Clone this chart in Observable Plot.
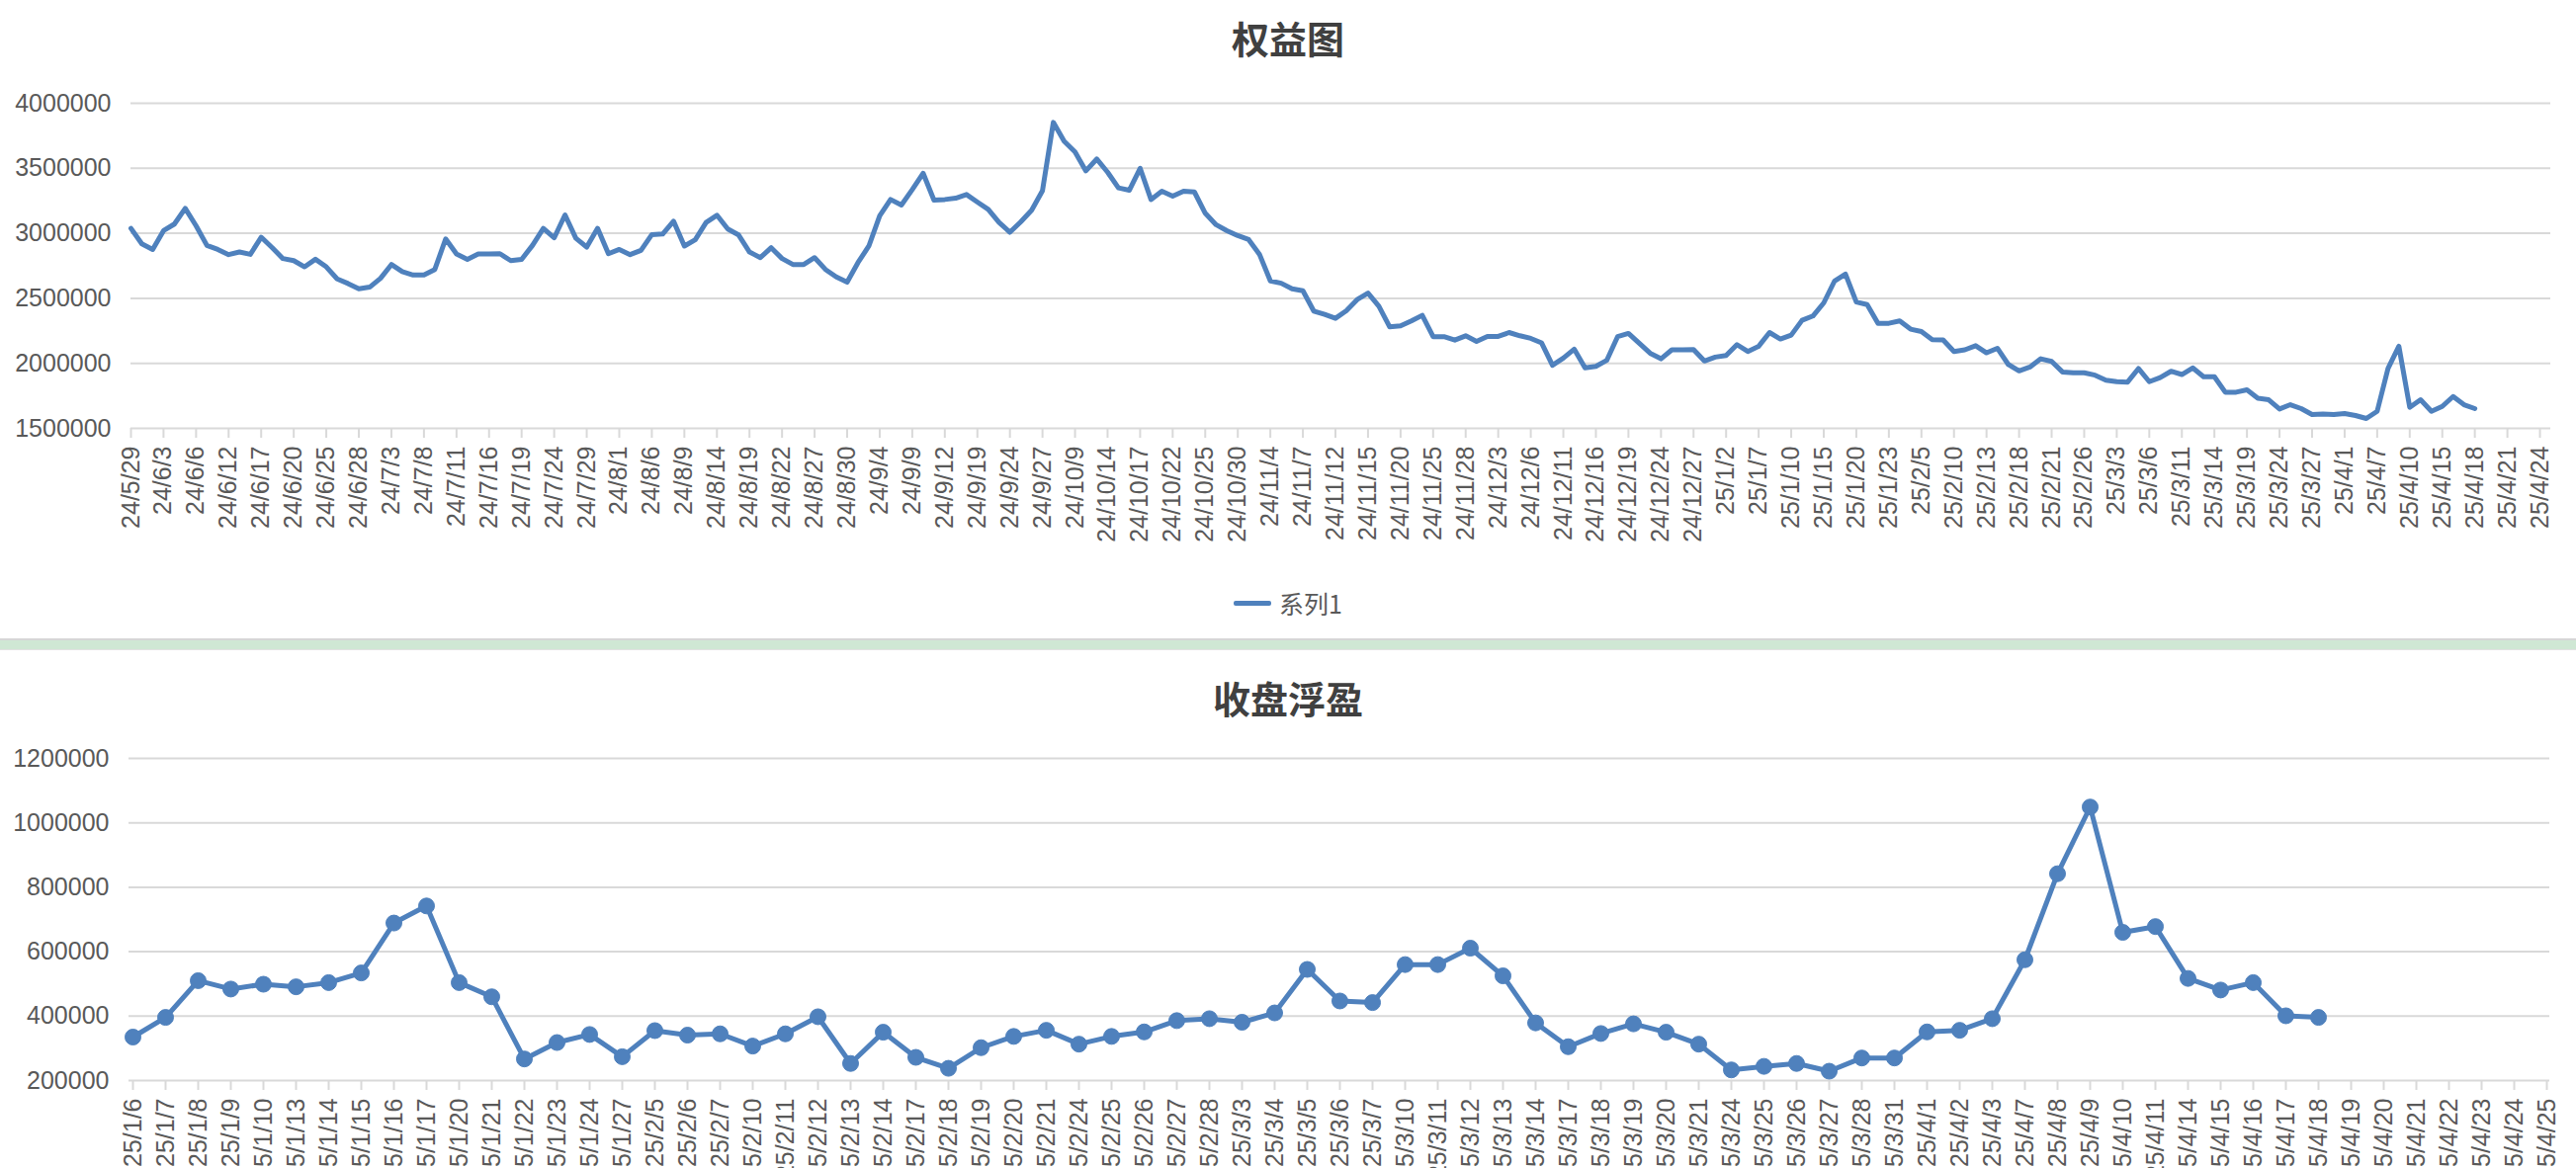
<!DOCTYPE html>
<html>
<head>
<meta charset="utf-8">
<script src="https://cdn.jsdelivr.net/npm/d3@7"></script>
<script src="https://cdn.jsdelivr.net/npm/@observablehq/plot@0.6"></script>
<style>
  html, body { margin: 0; padding: 0; background: #fff; }
  body { width: 2606px; height: 1182px; overflow: hidden; position: relative; }
  .title { position: absolute; left: 0; width: 2606px; text-align: center;
           font-family: "Noto Sans CJK SC", sans-serif; font-weight: 700; font-size: 38px; color: #404040; line-height: 1; }
  .chart { position: absolute; left: 0; }
  .legend { position: absolute; left: 0; width: 2606px; display: flex; justify-content: center; align-items: center;
            font-family: "Noto Sans CJK SC", "Liberation Sans", sans-serif; font-size: 25px; color: #595959; }
  .legend .sw { width: 38px; height: 5px; background: #4f81bd; margin-right: 8px; border-radius: 2px; }
  .band { position: absolute; left: 0; width: 2606px; top: 646px; height: 9px; background: #cfe7d4;
          border-top: 2px solid #d6d6d6; border-bottom: 1px solid #e2e2e2; }
</style>
</head>
<body>
<div class="title" style="top:19px">权益图</div>
<div id="top" class="chart" style="top:80px"></div>
<div class="legend" style="top:592px"><div class="sw"></div><span>系列1</span></div>
<div class="band"></div>
<div class="title" style="top:687px">收盘浮盈</div>
<div id="bottom" class="chart" style="top:740px"></div>
<script>
// ---------- Top chart: 权益图 ----------
const topDates = [
"24/5/29","24/5/30","24/5/31",
"24/6/3","24/6/4","24/6/5","24/6/6","24/6/7","24/6/11","24/6/12","24/6/13","24/6/14","24/6/17","24/6/18","24/6/19","24/6/20","24/6/21","24/6/24","24/6/25","24/6/26","24/6/27","24/6/28",
"24/7/1","24/7/2","24/7/3","24/7/4","24/7/5","24/7/8","24/7/9","24/7/10","24/7/11","24/7/12","24/7/15","24/7/16","24/7/17","24/7/18","24/7/19","24/7/22","24/7/23","24/7/24","24/7/25","24/7/26","24/7/29","24/7/30","24/7/31",
"24/8/1","24/8/2","24/8/5","24/8/6","24/8/7","24/8/8","24/8/9","24/8/12","24/8/13","24/8/14","24/8/15","24/8/16","24/8/19","24/8/20","24/8/21","24/8/22","24/8/23","24/8/26","24/8/27","24/8/28","24/8/29","24/8/30",
"24/9/2","24/9/3","24/9/4","24/9/5","24/9/6","24/9/9","24/9/10","24/9/11","24/9/12","24/9/13","24/9/18","24/9/19","24/9/20","24/9/23","24/9/24","24/9/25","24/9/26","24/9/27","24/9/30",
"24/10/8","24/10/9","24/10/10","24/10/11","24/10/14","24/10/15","24/10/16","24/10/17","24/10/18","24/10/21","24/10/22","24/10/23","24/10/24","24/10/25","24/10/28","24/10/29","24/10/30","24/10/31",
"24/11/1","24/11/4","24/11/5","24/11/6","24/11/7","24/11/8","24/11/11","24/11/12","24/11/13","24/11/14","24/11/15","24/11/18","24/11/19","24/11/20","24/11/21","24/11/22","24/11/25","24/11/26","24/11/27","24/11/28","24/11/29",
"24/12/2","24/12/3","24/12/4","24/12/5","24/12/6","24/12/9","24/12/10","24/12/11","24/12/12","24/12/13","24/12/16","24/12/17","24/12/18","24/12/19","24/12/20","24/12/23","24/12/24","24/12/25","24/12/26","24/12/27","24/12/30","24/12/31",
"25/1/2","25/1/3","25/1/6","25/1/7","25/1/8","25/1/9","25/1/10","25/1/13","25/1/14","25/1/15","25/1/16","25/1/17","25/1/20","25/1/21","25/1/22","25/1/23","25/1/24","25/1/27",
"25/2/5","25/2/6","25/2/7","25/2/10","25/2/11","25/2/12","25/2/13","25/2/14","25/2/17","25/2/18","25/2/19","25/2/20","25/2/21","25/2/24","25/2/25","25/2/26","25/2/27","25/2/28",
"25/3/3","25/3/4","25/3/5","25/3/6","25/3/7","25/3/10","25/3/11","25/3/12","25/3/13","25/3/14","25/3/17","25/3/18","25/3/19","25/3/20","25/3/21","25/3/24","25/3/25","25/3/26","25/3/27","25/3/28","25/3/31",
"25/4/1","25/4/2","25/4/3","25/4/7","25/4/8","25/4/9","25/4/10","25/4/11","25/4/14","25/4/15","25/4/16","25/4/17","25/4/18",
"25/4/19","25/4/20","25/4/21","25/4/22","25/4/23","25/4/24","25/4/25"
];
const topValues = [
3038000,2919000,2876000,3020000,3071000,3192000,3058000,2907000,2876000,2836000,
2856000,2838000,2970000,2891000,2806000,2790000,2742000,2800000,2742000,2649000,
2614000,2573000,2586000,2654000,2760000,2705000,2679000,2679000,2722000,2957000,
2841000,2800000,2841000,2841000,2843000,2790000,2800000,2907000,3038000,2965000,
3141000,2962000,2894000,3038000,2843000,2876000,2836000,2869000,2990000,2995000,
3093000,2902000,2950000,3083000,3139000,3033000,2987000,2856000,2813000,2889000,
2806000,2760000,2760000,2813000,2722000,2664000,2624000,2775000,2902000,3134000,
3260000,3217000,3336000,3462000,3255000,3260000,3270000,3298000,3240000,3184000,
3083000,3008000,3088000,3177000,3328000,3853000,3707000,3626000,3480000,3571000,
3470000,3349000,3331000,3500000,3260000,3323000,3285000,3323000,3318000,3154000,
3066000,3020000,2982000,2952000,2838000,2634000,2616000,2573000,2558000,2402000,
2376000,2346000,2404000,2490000,2540000,2439000,2280000,2288000,2326000,2369000,
2205000,2205000,2179000,2212000,2169000,2207000,2207000,2237000,2212000,2192000,
2157000,1985000,2040000,2109000,1965000,1977000,2023000,2205000,2230000,2154000,
2078000,2035000,2104000,2104000,2106000,2018000,2048000,2061000,2144000,2091000,
2131000,2237000,2187000,2217000,2331000,2364000,2465000,2634000,2687000,2472000,
2452000,2308000,2308000,2326000,2263000,2245000,2182000,2180000,2091000,2104000,
2136000,2081000,2116000,1992000,1942000,1972000,2035000,2015000,1934000,1927000,
1927000,1909000,1871000,1859000,1856000,1960000,1859000,1891000,1939000,1914000,
1965000,1897000,1897000,1778000,1778000,1796000,1732000,1720000,1649000,1682000,
1652000,1606000,1611000,1606000,1614000,1599000,1576000,1631000,1960000,2131000,
1662000,1720000,1631000,1669000,1745000,1682000,1652000
];
const topYTicks = [1500000, 2000000, 2500000, 3000000, 3500000, 4000000];

// ---------- Bottom chart: 收盘浮盈 ----------
const bottomDates = [
"25/1/6","25/1/7","25/1/8","25/1/9","25/1/10","25/1/13","25/1/14","25/1/15","25/1/16","25/1/17","25/1/20","25/1/21","25/1/22","25/1/23","25/1/24","25/1/27",
"25/2/5","25/2/6","25/2/7","25/2/10","25/2/11","25/2/12","25/2/13","25/2/14","25/2/17","25/2/18","25/2/19","25/2/20","25/2/21","25/2/24","25/2/25","25/2/26","25/2/27","25/2/28",
"25/3/3","25/3/4","25/3/5","25/3/6","25/3/7","25/3/10","25/3/11","25/3/12","25/3/13","25/3/14","25/3/17","25/3/18","25/3/19","25/3/20","25/3/21","25/3/24","25/3/25","25/3/26","25/3/27","25/3/28","25/3/31",
"25/4/1","25/4/2","25/4/3","25/4/7","25/4/8","25/4/9","25/4/10","25/4/11","25/4/14","25/4/15","25/4/16","25/4/17","25/4/18",
"25/4/19","25/4/20","25/4/21","25/4/22","25/4/23","25/4/24","25/4/25"
];
const bottomValues = [
335000,396000,510000,484000,499000,491000,504000,534000,689000,742000,
504000,460000,267000,318000,343000,274000,355000,341000,345000,307000,
345000,398000,253000,350000,272000,238000,302000,337000,356000,313000,
337000,351000,386000,392000,381000,410000,545000,447000,442000,560000,
560000,611000,525000,379000,305000,346000,376000,350000,313000,233000,
244000,253000,229000,270000,270000,351000,356000,392000,575000,842000,
1049000,660000,678000,517000,481000,504000,401000,396000
];
const bottomYTicks = [200000, 400000, 600000, 800000, 1000000, 1200000];

const lineColor = "#4f81bd";
const gridColor = "#d9d9d9";
const textColor = "#595959";
const fontStyle = {fontFamily: "'Liberation Sans', Arial, sans-serif", fontSize: "25px", color: textColor, background: "transparent", overflow: "visible"};

const topData = topValues.map((v, i) => ({date: topDates[i], value: v}));
const bottomData = bottomValues.map((v, i) => ({date: bottomDates[i], value: v}));

const topChart = Plot.plot({
  width: 2606, height: 480,
  marginLeft: 132, marginRight: 26, marginTop: 24, marginBottom: 127,
  style: fontStyle,
  x: {type: "point", domain: topDates, padding: 0, align: 0.5},
  y: {domain: [1500000, 4000000]},
  marks: [
    Plot.ruleY(topYTicks, {stroke: gridColor, strokeWidth: 2}),
    Plot.axisX({ticks: topDates.filter((d, i) => i % 3 === 0), tickRotate: -90, tickSize: 10, tickPadding: 8,
                stroke: gridColor, strokeWidth: 2, fill: textColor, label: null}),
    Plot.axisY({ticks: topYTicks, tickSize: 0, tickPadding: 20, tickFormat: d => String(d), fill: textColor, label: null}),
    Plot.line(topData, {x: "date", y: "value", stroke: lineColor, strokeWidth: 5, strokeLinejoin: "round", strokeLinecap: "round"})
  ]
});
document.getElementById("top").appendChild(topChart);

const bottomChart = Plot.plot({
  width: 2606, height: 470,
  marginLeft: 130, marginRight: 27, marginTop: 27, marginBottom: 117,
  style: fontStyle,
  x: {type: "point", domain: bottomDates, padding: 0, align: 0.5},
  y: {domain: [200000, 1200000]},
  marks: [
    Plot.ruleY(bottomYTicks, {stroke: gridColor, strokeWidth: 2}),
    Plot.axisX({ticks: bottomDates, tickRotate: -90, tickSize: 10, tickPadding: 8,
                stroke: gridColor, strokeWidth: 2, fill: textColor, label: null}),
    Plot.axisY({ticks: bottomYTicks, tickSize: 0, tickPadding: 20, tickFormat: d => String(d), fill: textColor, label: null}),
    Plot.line(bottomData, {x: "date", y: "value", stroke: lineColor, strokeWidth: 5, strokeLinejoin: "round"}),
    Plot.dot(bottomData, {x: "date", y: "value", r: 8, fill: lineColor, stroke: lineColor, strokeWidth: 1})
  ]
});
document.getElementById("bottom").appendChild(bottomChart);
</script>
</body>
</html>
